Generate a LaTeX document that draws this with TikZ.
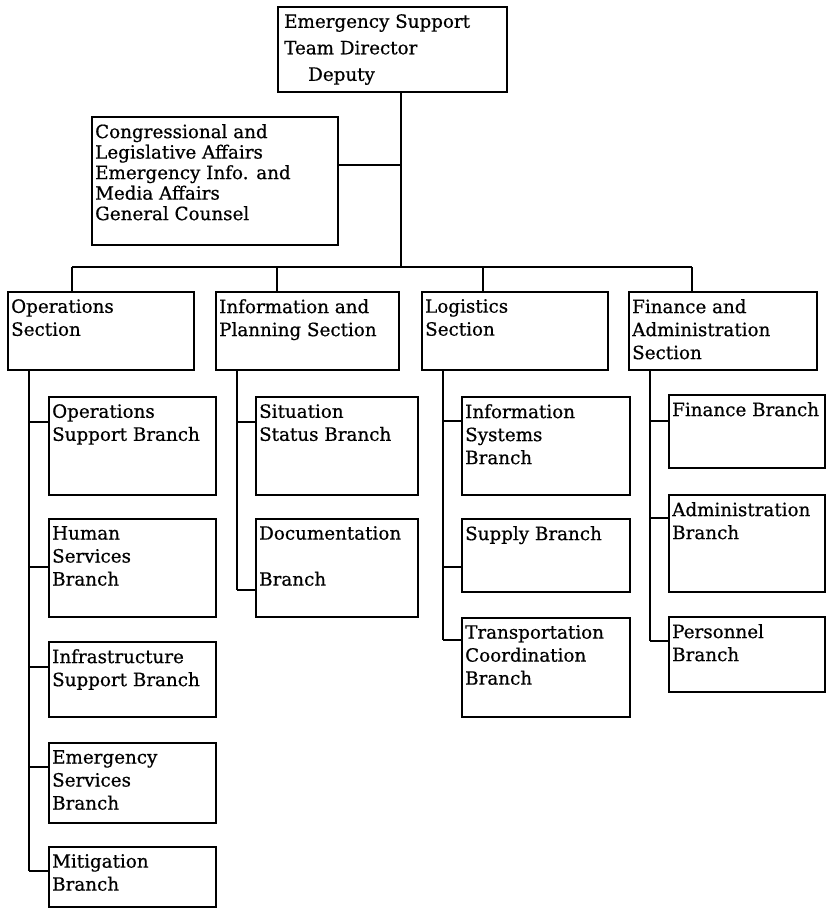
\documentclass[tikz,border=0pt]{standalone}
\usepackage{fontspec}
\setmainfont{DejaVu Serif}[FakeBold=0.6]
\begin{document}
\begin{tikzpicture}[x=1pt,y=-1pt,
  box/.style={draw, line width=1.8pt, rectangle, inner sep=0pt, outer sep=0pt, anchor=north west},
  txt/.style={anchor=north west, align=left, inner sep=0pt,
    font=\fontsize{18.3}{23}\selectfont},
  link/.style={line width=1.1pt}]
\useasboundingbox (0,0) rectangle (827,909);
\newcommand\orgbox[6]{%
  \node[box, minimum width=#4pt, minimum height=#5pt] (#1) at (#2,#3) {};
  \node[txt] (#1-t) at ([shift={(3pt,-7pt)}]#1.north west) {#6};}
% connector from a spine to a branch box, #3 pt below the box's top edge
\newcommand\branchlink[3]{%
  \coordinate (#2-in) at ([yshift=-#3pt]#2.north west);
  \draw[link] (#1 |- #2-in) -- (#2-in);}

% director and staff
\orgbox{dir}{278}{7}{229}{85}{}
\node[txt, font=\fontsize{18.3}{26.5}\selectfont] (dir-t) at ([shift={(6pt,-7pt)}]dir.north west)
  {Emergency Support\\Team Director\\\hspace{24pt}Deputy};
\orgbox{staff}{92}{117}{246}{128}{}
\node[txt, font=\fontsize{18.3}{20.5}\selectfont] (staff-t) at ([shift={(3pt,-7pt)}]staff.north west)
  {Congressional and\\Legislative Affairs\\Emergency Info. and\\Media Affairs\\General Counsel};

% sections
\orgbox{ops}{8}{292}{186}{78}{Operations\\Section}
\orgbox{inf}{216}{292}{183}{78}{Information and\\Planning Section}
\orgbox{log}{422}{292}{186}{78}{Logistics\\Section}
\orgbox{fin}{629}{292}{188}{78}{Finance and\\Administration\\Section}

% operations branches
\orgbox{ops1}{49}{397}{167}{98}{Operations\\Support Branch}
\orgbox{ops2}{49}{519}{167}{98}{Human\\Services\\Branch}
\orgbox{ops3}{49}{642}{167}{75}{Infrastructure\\Support Branch}
\orgbox{ops4}{49}{743}{167}{80}{Emergency\\Services\\Branch}
\orgbox{ops5}{49}{847}{167}{60}{Mitigation\\Branch}

% information and planning branches
\orgbox{inf1}{256}{397}{162}{98}{Situation\\Status Branch}
\orgbox{inf2}{256}{519}{162}{98}{Documentation\\[23pt]Branch}

% logistics branches
\orgbox{log1}{462}{397}{168}{98}{Information\\Systems\\Branch}
\orgbox{log2}{462}{519}{168}{73}{Supply Branch}
\orgbox{log3}{462}{618}{168}{99}{Transportation\\Coordination\\Branch}

% finance and administration branches
\orgbox{fin1}{669}{395}{156}{73}{Finance Branch}
\orgbox{fin2}{669}{495}{156}{97}{Administration\\Branch}
\orgbox{fin3}{669}{617}{156}{75}{Personnel\\Branch}

% top level connectors
\coordinate (bar) at (401,267);
\coordinate (barL) at (72,267);
\coordinate (barR) at (692,267);
\coordinate (tInf) at (277,267);
\coordinate (tLog) at (483,267);
\coordinate (staffJ) at (401,165);
\draw[link] (dir.south -| bar) -- (bar);
\draw[link] (staff.east |- staffJ) -- (staffJ);
\draw[link] (barL) -- (barR);
\draw[link] (barL) -- (barL |- ops.north);
\draw[link] (tInf) -- (tInf |- inf.north);
\draw[link] (tLog) -- (tLog |- log.north);
\draw[link] (barR) -- (barR |- fin.north);

% branch spines
\coordinate (sOps) at (29,370);
\coordinate (sInf) at (237,370);
\coordinate (sLog) at (443,370);
\coordinate (sFin) at (650,370);
\foreach \b/\d in {ops1/25,ops2/48,ops3/25,ops4/24,ops5/24}
  {\branchlink{sOps}{\b}{\d}}
\draw[link] (sOps) -- (sOps |- ops5-in);
\branchlink{sInf}{inf1}{25}
\branchlink{sInf}{inf2}{71}
\draw[link] (sInf) -- (sInf |- inf2-in);
\foreach \b/\d in {log1/24,log2/48,log3/22}
  {\branchlink{sLog}{\b}{\d}}
\draw[link] (sLog) -- (sLog |- log3-in);
\foreach \b/\d in {fin1/26,fin2/23,fin3/24}
  {\branchlink{sFin}{\b}{\d}}
\draw[link] (sFin) -- (sFin |- fin3-in);
\end{tikzpicture}
\end{document}
